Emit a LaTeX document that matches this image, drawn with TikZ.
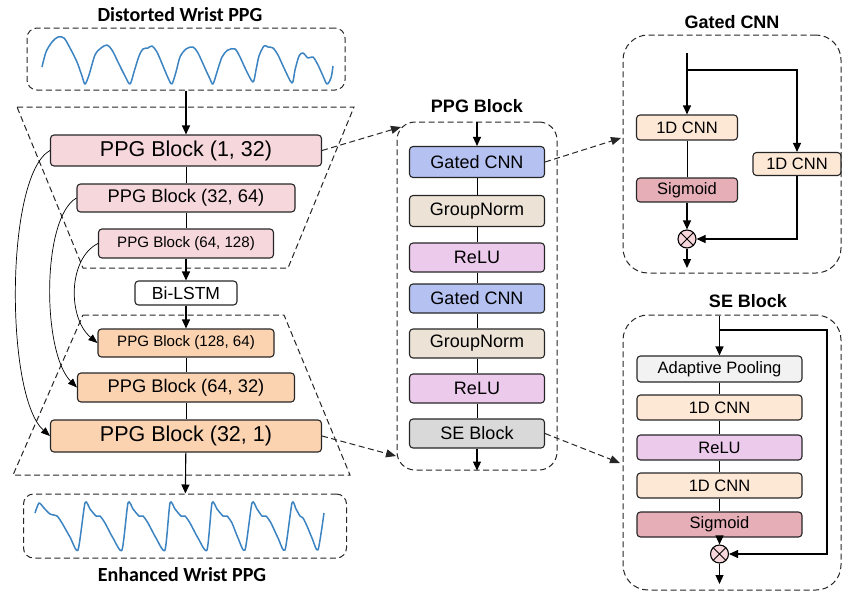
\documentclass[tikz,border=0pt]{standalone}
\usepackage{fontspec}
\setmainfont{Liberation Sans}
\newfontfamily\calibrifont{Carlito}
\usetikzlibrary{arrows.meta}

\definecolor{encpink}{HTML}{F5D7DC}
\definecolor{decpeach}{HTML}{FBD3B1}
\definecolor{gatedblue}{HTML}{B4C1F1}
\definecolor{normbeige}{HTML}{ECE3D6}
\definecolor{reluviolet}{HTML}{ECCAEC}
\definecolor{segrey}{HTML}{D9D9D9}
\definecolor{cnnpeach}{HTML}{FDE7D5}
\definecolor{sigrose}{HTML}{E6AEB7}
\definecolor{poolgrey}{HTML}{F2F2F2}
\definecolor{mulpink}{HTML}{F6D6DB}
\definecolor{wavecol}{HTML}{3B83C1}

\tikzset{
  blk/.style={draw=black!85, line width=1.1pt, rounded corners=3.5pt, inner sep=0pt},
  fs/.style={font=\fontsize{#1}{#1}\selectfont},
  dashbox/.style={draw=black!85, line width=1pt, dash pattern=on 6pt off 3.5pt},
  conn/.style={line width=1.1pt, -{Triangle[length=9pt,width=8pt]}},
  link/.style={line width=0.9pt},
  skip/.style={line width=0.7pt, -{Triangle[length=9pt,width=7pt]}},
  jump/.style={dashbox, -{Triangle[length=10pt,width=8pt]}},
  wave/.style={wavecol, line width=1.5pt, line join=round},
  ttl/.style={font=\bfseries\fontsize{18}{18}\selectfont},
  mul/.style={circle, draw, fill=mulpink, line width=1.1pt, minimum size=18pt, inner sep=0pt,
    path picture={\draw[line width=1pt] (path picture bounding box.north west)--(path picture bounding box.south east)
      (path picture bounding box.north east)--(path picture bounding box.south west);}},
}

\begin{document}
\begin{tikzpicture}[x=1pt, y=-1pt]
  \useasboundingbox (0,0) rectangle (843,592);

  % --- ENCODER / DECODER ---
  \node[font=\calibrifont\bfseries\fontsize{20}{20}\selectfont] (tin) at (180,15) {Distorted Wrist PPG};
  \node[dashbox, rounded corners=10pt, minimum width=318pt, minimum height=62pt] (wavein) at (186,59) {};
  \draw[wave] plot[smooth, tension=0.5] coordinates {(42,67) (46,52) (52,42) (58,37) (64,38) (70,48) (77,62) (82,76) (85,84)
    (89,75) (95,55) (101,48) (107,45) (112,50) (118,62) (125,76) (130,84)
    (134,72) (139,56) (143,49) (148,48) (152,46) (157,52) (163,66) (169,80) (172,84)
    (176,72) (180,57) (186,49) (193,47) (198,53) (204,66) (210,79) (213,84)
    (217,72) (222,57) (228,50) (235,49) (240,57) (246,70) (253,82)
    (256,70) (259,56) (264,46) (268,47) (273,48) (278,55) (284,68) (292,83)
    (295,70) (299,56) (303,53) (308,58) (313,57) (318,65) (323,76) (327,84) (331,78) (333,66)};

  \draw[dashbox] (17,107) -- (354,107) -- (288,268) -- (83,268) -- cycle;
  \draw[dashbox] (83,315) -- (284,315) -- (350,475) -- (13,475) -- cycle;

  \node[blk, fill=encpink, fs=21.5, minimum width=271pt, minimum height=31pt] (enc1) at (186,150.5) {PPG Block (1, 32)};
  \node[blk, fill=encpink, fs=18.3, minimum width=218pt, minimum height=28pt] (enc2) at (186,198) {PPG Block (32, 64)};
  \node[blk, fill=encpink, fs=15.1, minimum width=175pt, minimum height=29pt] (enc3) at (186,243.5) {PPG Block (64, 128)};
  \node[blk, fill=white, fs=17.5, minimum width=102pt, minimum height=24pt] (lstm) at (186,293) {Bi-LSTM};
  \node[blk, fill=decpeach, fs=15.1, minimum width=176pt, minimum height=28pt] (dec1) at (186,343) {PPG Block (128, 64)};
  \node[blk, fill=decpeach, fs=18.3, minimum width=217pt, minimum height=29pt] (dec2) at (186,387.5) {PPG Block (64, 32)};
  \node[blk, fill=decpeach, fs=21.5, minimum width=271pt, minimum height=32pt] (dec3) at (186,436) {PPG Block (32, 1)};

  \node[dashbox, rounded corners=10pt, minimum width=323pt, minimum height=64pt] (waveout) at (185,526) {};
  \draw[wave] plot[smooth, tension=0.4] coordinates {(35,513) (39,503) (44,508) (50,514) (57,516) (62,523) (70,537) (78,550)
    (85,503) (90,509) (96,516) (100,516) (105,523) (113,538) (122,550)
    (128,503) (133,509) (139,516) (143,516) (148,523) (156,538) (165,550)
    (170,503) (175,509) (181,516) (185,516) (190,523) (198,538) (207,550)
    (212,503) (217,509) (223,516) (227,516) (232,523) (238,538) (245,550)
    (252,503) (257,509) (262,516) (266,516) (271,523) (278,538) (285,550)
    (292,503) (296,509) (300,516) (303,518) (307,526) (312,538) (318,550) (324,513)};
  \node[font=\calibrifont\bfseries\fontsize{20}{20}\selectfont] (tout) at (182,575) {Enhanced Wrist PPG};

  \draw[conn] (wavein) -- (enc1);
  \draw[link] (enc1) -- (enc2);
  \draw[link] (enc2) -- (enc3);
  \draw[conn] (enc3) -- (lstm);
  \draw[conn] (lstm) -- (dec1);
  \draw[link] (dec1) -- (dec2);
  \draw[link] (dec2) -- (dec3);
  \draw[conn] (dec3) -- (waveout);

  % skip connections
  \draw[skip] (enc1.west) .. controls +(-45,25) and +(-45,-40) .. (dec3.west);
  \draw[skip] (enc2.west) .. controls +(-35,20) and +(-35,-35) .. (dec2.west);
  \draw[skip] (enc3.west) .. controls +(-30,15) and +(-30,-25) .. (dec1.west);

  % --- PPG BLOCK ---
  \node[ttl] (tppg) at (477,106) {PPG Block};
  \node[dashbox, rounded corners=18pt, minimum width=160pt, minimum height=348pt] (ppgframe) at (477,296) {};
  \node[blk, fill=gatedblue, fs=18, minimum width=135pt, minimum height=31pt] (g1) at (477,162) {Gated CNN};
  \node[blk, fill=normbeige, fs=18, minimum width=135pt, minimum height=31pt] (n1) at (477,211) {GroupNorm};
  \node[blk, fill=reluviolet, fs=18, minimum width=135pt, minimum height=29pt] (r1) at (477,257.5) {ReLU};
  \node[blk, fill=gatedblue, fs=18, minimum width=135pt, minimum height=29pt] (g2) at (477,298.5) {Gated CNN};
  \node[blk, fill=normbeige, fs=18, minimum width=135pt, minimum height=29pt] (n2) at (477,343.5) {GroupNorm};
  \node[blk, fill=reluviolet, fs=18, minimum width=135pt, minimum height=29pt] (r2) at (477,388.5) {ReLU};
  \node[blk, fill=segrey, fs=18, minimum width=135pt, minimum height=29pt] (se) at (477,433.5) {SE Block};

  \draw[conn] (ppgframe.north) -- (g1);
  \draw[link] (g1) -- (n1);
  \draw[link] (n1) -- (r1);
  \draw[link] (r1) -- (g2);
  \draw[link] (g2) -- (n2);
  \draw[link] (n2) -- (r2);
  \draw[link] (r2) -- (se);
  \draw[conn] (se) -- (ppgframe.south);

  \coordinate (ppgin) at (401,127);
  \coordinate (ppgout) at (396,456);
  \draw[jump] (enc1.east) -- (ppgin);
  \draw[jump] (dec3.east) -- (ppgout);

  % --- GATED CNN ---
  \node[ttl] (tgated) at (732,22) {Gated CNN};
  \node[dashbox, rounded corners=25pt, minimum width=218pt, minimum height=238pt] (gframe) at (732,154) {};
  \node[blk, fill=cnnpeach, fs=16.5, minimum width=101pt, minimum height=25pt] (c1) at (687,127.5) {1D CNN};
  \node[blk, fill=cnnpeach, fs=16.5, minimum width=88pt, minimum height=23pt] (c2) at (797,164) {1D CNN};
  \node[blk, fill=sigrose, fs=16.5, minimum width=101pt, minimum height=24pt] (sig1) at (687,190) {Sigmoid};
  \node[mul] (m1) at (687,239) {};

  \coordinate (gtop) at (687,53);
  \coordinate (gsplit) at (687,70);
  \coordinate (gbot) at (687,268);
  \draw[conn] (gtop) -- (c1);
  \draw[conn] (gsplit) -| (c2.north);
  \draw[link] (c1) -- (sig1);
  \draw[conn] (sig1) -- (m1);
  \draw[conn] (c2.south) |- (m1.east);
  \draw[conn] (m1) -- (gbot);

  \coordinate (gcin) at (621,138);
  \draw[jump] (g1.east) -- (gcin);

  % --- SE BLOCK ---
  \node[ttl] (tse) at (748,301) {SE Block};
  \node[dashbox, rounded corners=25pt, minimum width=218pt, minimum height=275pt] (sframe) at (732,452.5) {};
  \node[blk, fill=poolgrey, fs=16.5, minimum width=165pt, minimum height=26pt] (ap) at (719.5,369) {Adaptive Pooling};
  \node[blk, fill=cnnpeach, fs=16.5, minimum width=165pt, minimum height=25pt] (c3) at (719.5,407.5) {1D CNN};
  \node[blk, fill=reluviolet, fs=16.5, minimum width=165pt, minimum height=25pt] (r3) at (719.5,447.5) {ReLU};
  \node[blk, fill=cnnpeach, fs=16.5, minimum width=165pt, minimum height=25pt] (c4) at (719.5,485.5) {1D CNN};
  \node[blk, fill=sigrose, fs=16.5, minimum width=165pt, minimum height=25pt] (sig2) at (719.5,524.5) {Sigmoid};
  \node[mul] (m2) at (719.5,554) {};

  \coordinate (stop) at (719.5,316);
  \coordinate (ssplit) at (719.5,330);
  \coordinate (sright) at (827,330);
  \coordinate (sbot) at (719.5,584);
  \draw[conn] (stop) -- (ap);
  \draw[conn] (ssplit) -- (sright) |- (m2.east);
  \draw[link] (ap) -- (c3);
  \draw[link] (c3) -- (r3);
  \draw[link] (r3) -- (c4);
  \draw[link] (c4) -- (sig2);
  \draw[conn] (sig2) -- (m2);
  \draw[conn] (m2) -- (sbot);

  \coordinate (sein) at (620,463);
  \draw[jump] (se.east) -- (sein);

\end{tikzpicture}
\end{document}
